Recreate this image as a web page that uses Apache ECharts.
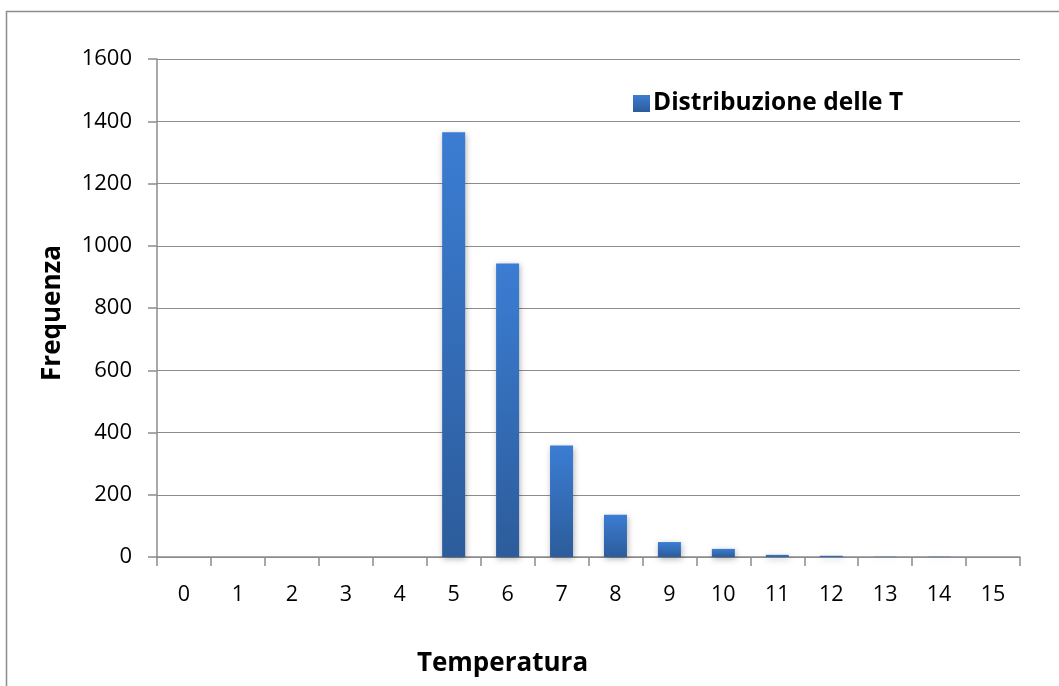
<!DOCTYPE html>
<html>
<head>
<meta charset="utf-8">
<script src="https://cdn.jsdelivr.net/npm/echarts@6/dist/echarts.min.js"></script>
<style>
html,body{margin:0;padding:0;background:#fff;}
#chart{width:1059px;height:686px;}
</style>
</head>
<body>
<div id="chart"></div>
<script>
const categories = ['0','1','2','3','4','5','6','7','8','9','10','11','12','13','14','15'];
const frequenze = [0,0,0,0,0,1365,943,358,136,48,26,7,4,1,1,0];
const yTicks = [0,200,400,600,800,1000,1200,1400,1600];
const seriesName = 'Distribuzione delle T';
const xTitle = 'Temperatura';
const yTitle = 'Frequenza';

const FONT = 'Open Sans, Liberation Sans, sans-serif';
const chart = echarts.init(document.getElementById('chart'));
chart.setOption({
  animation: false,
  backgroundColor: '#ffffff',
  graphic: [{
    type: 'rect', silent: true, z: -1,
    shape: {x: 6.5, y: 11.5, width: 1100, height: 800},
    style: {fill: 'none', stroke: '#8c8c8c', lineWidth: 1.5}
  }],
  grid: {left: 157, right: 39, top: 59, bottom: 129, containLabel: false},
  legend: {
    data: [seriesName],
    left: 628, top: 86,
    itemWidth: 17, itemHeight: 17, itemGap: 6,
    icon: 'rect',
    textStyle: {fontFamily: FONT, fontSize: 24.5, fontWeight: 'bold', color: '#000', padding: [0,0,0,-2]}
  },
  xAxis: {
    type: 'category',
    data: categories,
    boundaryGap: true,
    name: xTitle,
    nameLocation: 'middle',
    nameGap: 94,
    nameTextStyle: {fontFamily: FONT, fontSize: 26, fontWeight: 'bold', color: '#000', padding: [0, 172, 0, 0]},
    axisLine: {lineStyle: {color: '#8c8c8c', width: 1.5}},
    axisTick: {show: true, alignWithLabel: false, length: 9, lineStyle: {color: '#8c8c8c', width: 1.5}},
    axisLabel: {fontFamily: FONT, fontSize: 21.5, color: '#000', margin: 27}
  },
  yAxis: {
    type: 'value',
    min: 0, max: 1600, interval: 200,
    name: yTitle,
    nameLocation: 'middle',
    nameGap: 91,
    nameTextStyle: {fontFamily: FONT, fontSize: 26, fontWeight: 'bold', color: '#000', padding: [0, 10, 0, 0]},
    axisLine: {show: true, lineStyle: {color: '#8c8c8c', width: 1.5}},
    axisTick: {show: true, length: 9, lineStyle: {color: '#8c8c8c', width: 1.5}},
    axisLabel: {fontFamily: FONT, fontSize: 22, color: '#000', margin: 25,
      formatter: v => yTicks.includes(v) ? String(v) : ''},
    splitLine: {lineStyle: {color: '#8c8c8c', width: 1.2}}
  },
  series: [{
    name: seriesName,
    type: 'bar',
    data: frequenze,
    barWidth: 23,
    itemStyle: {
      color: new echarts.graphic.LinearGradient(0, 0, 0, 1, [
        {offset: 0, color: '#3b7dd3'},
        {offset: 1, color: '#2c5c9b'}
      ]),
      shadowColor: 'rgba(0,0,0,0.3)',
      shadowBlur: 6,
      shadowOffsetX: 1,
      shadowOffsetY: 2
    }
  }]
});
</script>
</body>
</html>
